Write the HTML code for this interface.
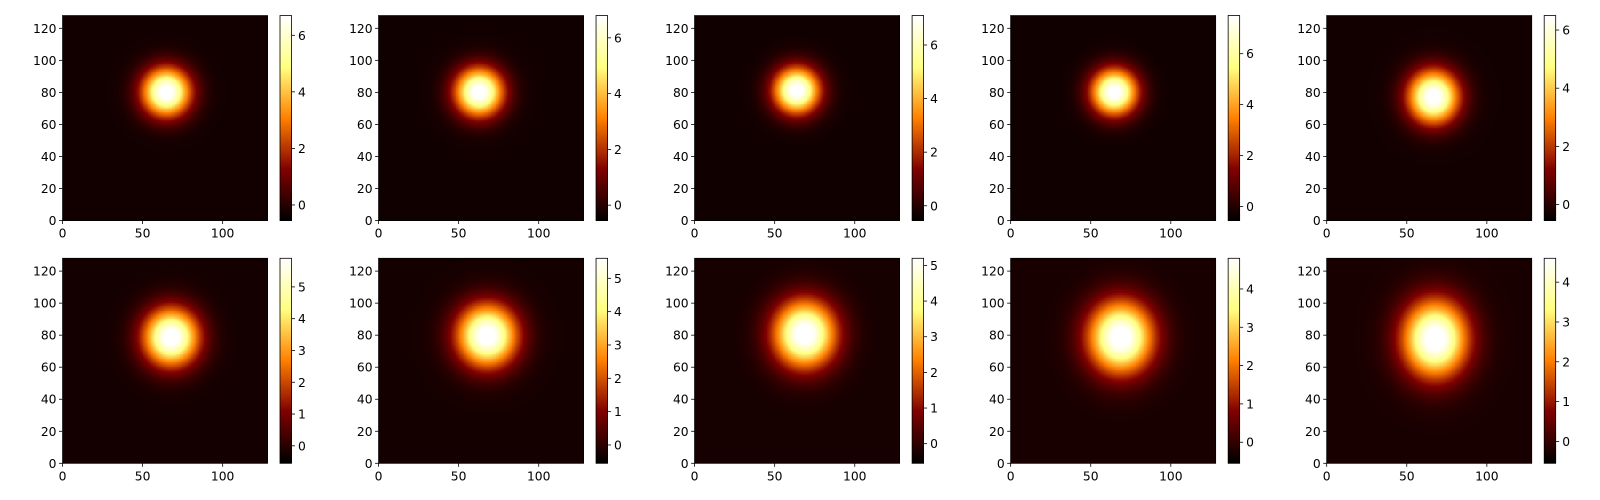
<!DOCTYPE html>
<html><head><meta charset="utf-8">
<style>
body{margin:0;background:#fff;width:1600px;height:500px;overflow:hidden;position:relative;font-family:"DejaVu Sans","Liberation Sans",sans-serif}
canvas{position:absolute;image-rendering:pixelated}
svg{position:absolute;left:0;top:0}
</style></head>
<body>
<svg id="ov" width="1600" height="500"></svg>
<script>
// data per panel (data units: pixels of 128x128 image)
const centerX=[64,62,63,64,66,67,67,68,68,67];
const centerY=[80,80,81,80,77,78,79,80,78,77];
const sigmaX=[10.5,10.5,10,10,11,12,13,13.5,14,14];
const sigmaY=[10.5,10.5,10,10,11.5,12.5,13.5,14.5,15.5,16.5];
const peak=[7.4,7.5,7.8,8.2,7.2,6.6,6.3,5.9,5.5,5.3];
const vmaxes=[6.7,6.8,7.1,7.5,6.5,5.9,5.6,5.2,4.8,4.6];
const background=[-0.3,-0.3,-0.3,-0.3,-0.3,-0.3,-0.3,-0.3,-0.3,-0.3];
const vmin=-0.55;
const xTicks=[0,50,100];
const yTicks=[0,20,40,60,80,100,120];
const ns="http://www.w3.org/2000/svg";
const ov=document.getElementById('ov');
function afm(t){t=Math.max(0,Math.min(1,t));return[Math.min(1,2*t)*255,Math.max(0,Math.min(1,2*t-0.5))*255,Math.max(0,Math.min(1,2*t-1))*255];}
function line(x1,y1,x2,y2,name){const l=document.createElementNS(ns,'line');l.setAttribute('x1',x1);l.setAttribute('y1',y1);l.setAttribute('x2',x2);l.setAttribute('y2',y2);l.setAttribute('stroke','#000');l.setAttribute('stroke-width','0.8');


ov.appendChild(l);}
function txt(x,y,s,anchor,name){const t=document.createElementNS(ns,'text');t.setAttribute('x',x);t.setAttribute('y',y);t.setAttribute('text-anchor',anchor);t.setAttribute('font-size','12.3');t.setAttribute('fill','#000');t.textContent=s;


ov.appendChild(t);}
function rect(x,y,w,h,name){const r=document.createElementNS(ns,'rect');r.setAttribute('x',x);r.setAttribute('y',y);r.setAttribute('width',w);r.setAttribute('height',h);r.setAttribute('fill','none');r.setAttribute('stroke','#000');r.setAttribute('stroke-width','0.8');


ov.appendChild(r);}
const W=205,H=205,N=128;
for(let i=0;i<10;i++){
  const row=Math.floor(i/5),col=i%5;
  const L=62.5+col*316.05, T=row?258.3:15.5;
  const vmax=vmaxes[i];
  const c=document.createElement('canvas');c.width=N;c.height=N;
  c.style.left=L+'px';c.style.top=T+'px';c.style.width=W+'px';c.style.height=H+'px';
  
  
  const ctx=c.getContext('2d');const im=ctx.createImageData(N,N);
  for(let py=0;py<N;py++)for(let px=0;px<N;px++){
    const dy=N-1-py;
    const q=((px-centerX[i])/sigmaX[i])**2+((dy-centerY[i])/sigmaY[i])**2;
    const v=background[i]+peak[i]*Math.exp(-q/2);
    const col3=afm((v-vmin)/(vmax-vmin));const k=(py*N+px)*4;
    im.data[k]=col3[0];im.data[k+1]=col3[1];im.data[k+2]=col3[2];im.data[k+3]=255;}
  ctx.putImageData(im,0,0);document.body.insertBefore(c,ov);
  // colorbar
  const cb=document.createElement('canvas');cb.width=1;cb.height=200;
  const CL=L+217.5;cb.style.left=CL+'px';cb.style.top=T+'px';cb.style.width='11.5px';cb.style.height=H+'px';
  
  
  const cctx=cb.getContext('2d');const ci=cctx.createImageData(1,200);
  for(let y=0;y<200;y++){const cc=afm(1-y/199);ci.data[y*4]=cc[0];ci.data[y*4+1]=cc[1];ci.data[y*4+2]=cc[2];ci.data[y*4+3]=255;}
  cctx.putImageData(ci,0,0);document.body.insertBefore(cb,ov);
  rect(L,T,W,H,'axes-frame-'+(i+1));rect(CL,T,11.5,H,'colorbar-frame-'+(i+1));
  const sx=v=>L+v/N*W, sy=v=>T+H-v/N*H;
  xTicks.forEach(v=>{line(sx(v),T+H,sx(v),T+H+3.5,'x-tick');txt(sx(v),T+H+17,String(v),'middle','x-tick-label');});
  yTicks.forEach(v=>{line(L,sy(v),L-3.5,sy(v),'y-tick');txt(L-6,sy(v)+4.5,String(v),'end','y-tick-label');});
  const step=row?1:2;
  const cy=v=>T+H-(v-vmin)/(vmax-vmin)*H;
  for(let v=0;v<=vmax;v+=step){line(CL+11.5,cy(v),CL+15,cy(v),'colorbar-tick');txt(CL+18,cy(v)+4.5,String(v),'start','colorbar-tick-label');}
}
</script>
</body></html>
